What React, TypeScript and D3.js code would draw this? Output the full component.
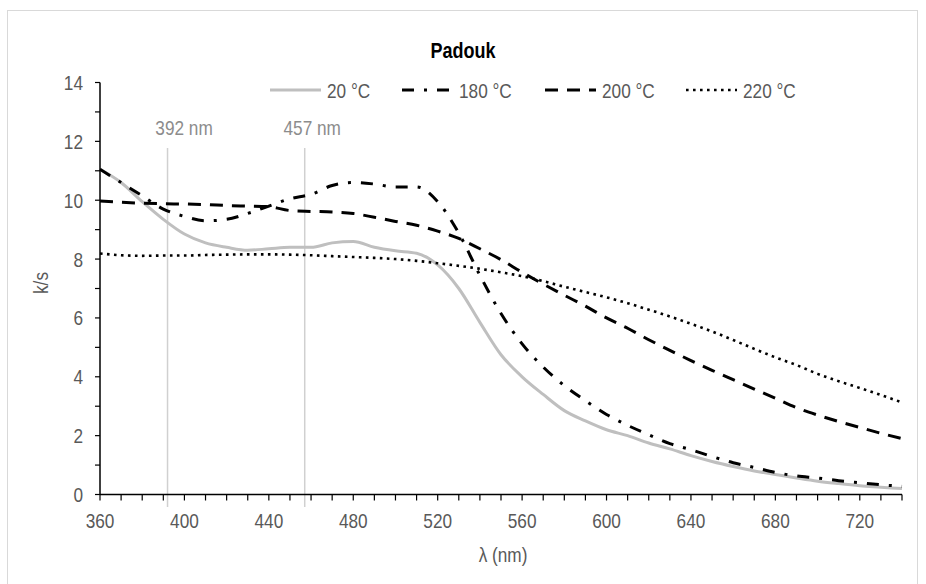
import React from "react";
import * as d3 from "d3";

// Wavelengths (nm), one reading every 10 nm
const wavelengths = d3.range(360, 741, 10);

// k/s values for each treatment temperature
const k20 = [11.05, 10.6, 9.95, 9.35, 8.85, 8.55, 8.4, 8.3, 8.35, 8.4, 8.4, 8.55, 8.6, 8.4, 8.28, 8.2, 7.8, 7.0, 5.85, 4.75, 4.0, 3.4, 2.85, 2.5, 2.2, 2.0, 1.75, 1.55, 1.32, 1.12, 0.95, 0.8, 0.68, 0.56, 0.45, 0.37, 0.3, 0.25, 0.2];
const k180 = [11.05, 10.6, 10.15, 9.7, 9.45, 9.3, 9.35, 9.55, 9.8, 10.05, 10.2, 10.5, 10.6, 10.55, 10.45, 10.45, 9.95, 8.88, 7.45, 6.15, 5.12, 4.33, 3.7, 3.19, 2.72, 2.35, 2.03, 1.73, 1.52, 1.29, 1.08, 0.92, 0.75, 0.63, 0.56, 0.47, 0.4, 0.33, 0.28];
const k200 = [9.97, 9.93, 9.9, 9.88, 9.87, 9.85, 9.82, 9.8, 9.78, 9.65, 9.62, 9.6, 9.55, 9.42, 9.28, 9.15, 8.95, 8.7, 8.35, 7.98, 7.55, 7.15, 6.77, 6.4, 6.0, 5.65, 5.26, 4.9, 4.55, 4.22, 3.9, 3.58, 3.27, 2.95, 2.7, 2.48, 2.28, 2.08, 1.9];
const k220 = [8.19, 8.13, 8.11, 8.12, 8.12, 8.14, 8.15, 8.16, 8.16, 8.15, 8.13, 8.1, 8.07, 8.04, 8.0, 7.94, 7.86, 7.77, 7.67, 7.55, 7.42, 7.25, 7.06, 6.88, 6.7, 6.5, 6.28, 6.05, 5.8, 5.54, 5.25, 4.95, 4.66, 4.4, 4.1, 3.85, 3.62, 3.38, 3.13];

const seriesNames = ["20 °C", "180 °C", "200 °C", "220 °C"];
const seriesValues = [k20, k180, k200, k220];

// Axis ticks
const xLabelTicks = [360, 400, 440, 480, 520, 560, 600, 640, 680, 720];
const xMinorTicks = d3.range(360, 741, 10);
const yLabelTicks = [0, 2, 4, 6, 8, 10, 12, 14];
const yMinorTicks = d3.range(0, 15, 1);

// Marked wavelengths
const markers = [392, 457];
const markerLabelShift = [16.5, 7.5];

const W = 926;
const H = 584;
const FONT = "'Liberation Sans', Arial, sans-serif";
const TEXT = "#595959";
const NARROW = 0.82;

const styles = [
  { stroke: "#bfbfbf", width: 3, dash: "" },
  { stroke: "#000", width: 3, dash: "12 10 3 10" },
  { stroke: "#000", width: 3, dash: "13 9" },
  { stroke: "#000", width: 2.6, dash: "2.6 4.4" },
];

// Condensed text: regular sans squeezed horizontally around its anchor point
function NText({
  x,
  y,
  anchor = "start",
  size = 21,
  fill = TEXT,
  weight = "normal",
  rotate = 0,
  children,
}: {
  x: number;
  y: number;
  anchor?: "start" | "middle" | "end";
  size?: number;
  fill?: string;
  weight?: string;
  rotate?: number;
  children: React.ReactNode;
}) {
  return (
    <text
      transform={`translate(${x},${y}) rotate(${rotate}) scale(${NARROW},1)`}
      textAnchor={anchor}
      fontSize={size}
      fontWeight={weight}
      fill={fill}
    >
      {children}
    </text>
  );
}

export default function App() {
  const x = d3.scaleLinear().domain([360, 740]).range([100, 902]);
  const y = d3.scaleLinear().domain([0, 14]).range([494.5, 82.5]);

  const line = d3
    .line<[number, number]>()
    .x((d) => x(d[0]))
    .y((d) => y(d[1]))
    .curve(d3.curveMonotoneX);

  const legendX = [270, 402, 545, 686];

  return (
    <svg
      width={W}
      height={H}
      style={{ position: "absolute", left: 0, top: 0, background: "#fff" }}
      fontFamily={FONT}
    >
      <rect x={7.5} y={10.5} width={910} height={600} fill="#fff" stroke="#d9d9d9" strokeWidth={1} />

      <NText x={463} y={58} anchor="middle" size={22} weight="bold" fill="#000">
        Padouk
      </NText>

      {/* marker lines */}
      {markers.map((m, i) => (
        <g key={m}>
          <line x1={x(m)} x2={x(m)} y1={148} y2={507} stroke="#d0d0d0" strokeWidth={1.5} />
          <NText x={x(m) + markerLabelShift[i]} y={135} anchor="middle" fill="#8c8c8c">
            {m} nm
          </NText>
        </g>
      ))}

      {/* series */}
      {seriesValues.map((vals, i) => (
        <path
          key={seriesNames[i]}
          d={line(wavelengths.map((w, j) => [w, vals[j]] as [number, number])) || ""}
          fill="none"
          stroke={styles[i].stroke}
          strokeWidth={styles[i].width}
          strokeDasharray={styles[i].dash || undefined}
          strokeLinejoin="round"
        />
      ))}

      {/* y axis */}
      <line x1={100} x2={100} y1={y(14)} y2={y(0)} stroke="#000" strokeWidth={1.5} />
      {yMinorTicks.map((t) => (
        <line key={t} x1={95} x2={100} y1={y(t)} y2={y(t)} stroke="#000" strokeWidth={1.2} />
      ))}
      {yLabelTicks.map((t) => (
        <NText key={t} x={83} y={y(t) + 7.5} anchor="end">
          {t}
        </NText>
      ))}

      {/* x axis */}
      <line x1={100} x2={902} y1={y(0)} y2={y(0)} stroke="#000" strokeWidth={1.5} />
      {xMinorTicks.map((t) => (
        <line key={t} x1={x(t)} x2={x(t)} y1={y(0)} y2={y(0) + 6} stroke="#000" strokeWidth={1.2} />
      ))}
      {xLabelTicks.map((t) => (
        <NText key={t} x={x(t)} y={528} anchor="middle">
          {t}
        </NText>
      ))}

      <NText x={503} y={562} anchor="middle">
        λ (nm)
      </NText>
      <NText x={48} y={283} anchor="middle" rotate={-90}>
        k/s
      </NText>

      {/* legend */}
      {seriesNames.map((name, i) => (
        <g key={name}>
          <line
            x1={legendX[i]}
            x2={legendX[i] + 51}
            y1={90}
            y2={90}
            stroke={styles[i].stroke}
            strokeWidth={styles[i].width}
            strokeDasharray={styles[i].dash || undefined}
          />
          <NText x={legendX[i] + 57} y={98}>
            {name}
          </NText>
        </g>
      ))}
    </svg>
  );
}
